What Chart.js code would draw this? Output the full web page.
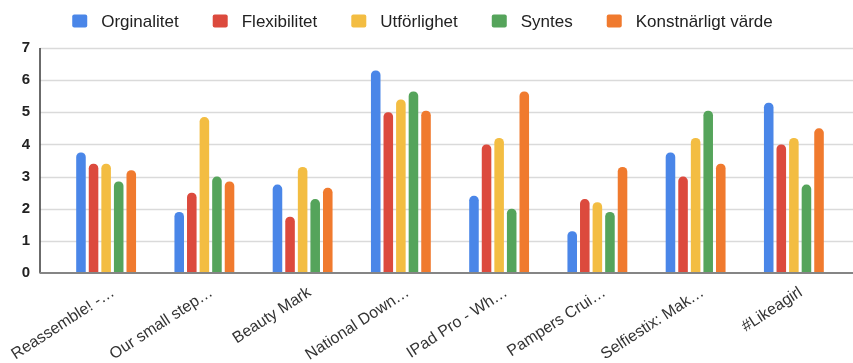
<!DOCTYPE html>
<html>
<head>
<meta charset="utf-8">
<script src="https://cdn.jsdelivr.net/npm/chart.js@4.4.1/dist/chart.umd.min.js"></script>
<style>
  html, body { margin: 0; padding: 0; background: #ffffff; }
  #wrap { width: 853px; height: 363px; position: relative; }
</style>
</head>
<body>
<div id="wrap"><canvas id="chart"></canvas></div>
<script>
// Category labels (truncated titles of the films)
const categories = [
  'Reassemble! -…', 'Our small step…', 'Beauty Mark', 'National Down…',
  'IPad Pro - Wh…', 'Pampers Crui…', 'Selfiestix: Mak…', '#Likeagirl'
];

// Series names
const seriesNames = ['Orginalitet', 'Flexibilitet', 'Utförlighet', 'Syntes', 'Konstnärligt värde'];

// Mean scores per film, one array per criterion
const orginalitet = [3.75, 1.9, 2.75, 6.3, 2.4, 1.3, 3.75, 5.3];
const flexibilitet = [3.4, 2.5, 1.75, 5.0, 4.0, 2.3, 3.0, 4.0];
const utforlighet = [3.4, 4.85, 3.3, 5.4, 4.2, 2.2, 4.2, 4.2];
const syntes = [2.85, 3.0, 2.3, 5.65, 2.0, 1.9, 5.05, 2.75];
const konstnarligt = [3.2, 2.85, 2.65, 5.05, 5.65, 3.3, 3.4, 4.5];

// Y axis tick values
const yTicks = [0, 1, 2, 3, 4, 5, 6, 7];

const seriesColors = ['#4a86e8', '#dc4a3d', '#f3bd42', '#55a45b', '#f07a2e'];
const seriesValues = [orginalitet, flexibilitet, utforlighet, syntes, konstnarligt];

const FONT = "'Liberation Sans', Arial, sans-serif";

// Horizontal grid, vertical axis line and baseline, spanning from the axis line to the right edge
const gridPlugin = {
  id: 'sheetGrid',
  beforeDatasetsDraw(chart) {
    const { ctx } = chart;
    const y = chart.scales.y;
    const axisX = 40;
    const rightX = chart.width;
    ctx.save();
    ctx.strokeStyle = '#dadada';
    ctx.lineWidth = 1.5;
    yTicks.forEach(v => {
      if (v === 0) return;
      const py = Math.round(y.getPixelForValue(v)) + 0.5;
      ctx.beginPath();
      ctx.moveTo(axisX, py);
      ctx.lineTo(rightX, py);
      ctx.stroke();
    });
    // vertical axis line
    ctx.strokeStyle = '#3a3a3a';
    ctx.lineWidth = 1.5;
    ctx.beginPath();
    ctx.moveTo(axisX, y.getPixelForValue(yTicks[yTicks.length - 1]));
    ctx.lineTo(axisX, y.getPixelForValue(0));
    ctx.stroke();
    ctx.restore();
  },
  afterDatasetsDraw(chart) {
    const { ctx } = chart;
    const y = chart.scales.y;
    const py = y.getPixelForValue(0);
    ctx.save();
    ctx.strokeStyle = '#858585';
    ctx.lineWidth = 2;
    ctx.beginPath();
    ctx.moveTo(39.5, py);
    ctx.lineTo(chart.width, py);
    ctx.stroke();
    ctx.restore();
  }
};

// Centered legend row at the top
const legendPlugin = {
  id: 'topLegend',
  afterDraw(chart) {
    const { ctx } = chart;
    const boxW = 15, boxH = 13, boxGap = 14, itemGap = 34;
    const cy = 21;
    ctx.save();
    ctx.font = '17px ' + FONT;
    const items = chart.data.datasets.map(ds => ({
      text: ds.label,
      color: ds.backgroundColor,
      w: boxW + boxGap + ctx.measureText(ds.label).width
    }));
    const total = items.reduce((s, it) => s + it.w, 0) + itemGap * (items.length - 1);
    let x = (chart.width - total) / 2 - 4;
    ctx.textBaseline = 'middle';
    ctx.textAlign = 'left';
    items.forEach(it => {
      ctx.fillStyle = it.color;
      ctx.beginPath();
      ctx.roundRect(x, cy - boxH / 2, boxW, boxH, 2);
      ctx.fill();
      ctx.fillStyle = '#222222';
      ctx.fillText(it.text, x + boxW + boxGap, cy + 1);
      x += it.w + itemGap;
    });
    ctx.restore();
  }
};

new Chart(document.getElementById('chart'), {
  type: 'bar',
  data: {
    labels: categories,
    datasets: seriesNames.map((name, i) => ({
      label: name,
      data: seriesValues[i],
      backgroundColor: seriesColors[i],
      borderRadius: { topLeft: 4.5, topRight: 4.5, bottomLeft: 0, bottomRight: 0 },
      borderSkipped: 'start',
      categoryPercentage: 0.64,
      barPercentage: 0.76
    }))
  },
  options: {
    responsive: true,
    maintainAspectRatio: false,
    animation: false,
    devicePixelRatio: 1,
    layout: { padding: { top: 48, right: 10, left: 0, bottom: 0 } },
    plugins: {
      legend: { display: false },
      tooltip: { enabled: false }
    },
    scales: {
      x: {
        grid: { display: false, drawTicks: false },
        border: { display: false },
        ticks: {
          autoSkip: false,
          minRotation: 33,
          maxRotation: 33,
          padding: 10,
          labelOffset: 7,
          color: '#333333',
          font: { family: FONT, size: 16 }
        },
        afterFit(scale) {
          scale.height = 90;
          scale.paddingLeft = 0;
          scale.paddingRight = 0;
        }
      },
      y: {
        min: 0,
        max: 7,
        grid: { display: false, drawTicks: false },
        border: { display: false },
        afterBuildTicks(scale) { scale.ticks = yTicks.map(v => ({ value: v })); },
        ticks: {
          padding: 27,
          color: '#222222',
          font: { family: FONT, size: 15, weight: 'bold' }
        },
        afterFit(scale) {
          scale.width = 57;
          scale.paddingTop = 0;
          scale.paddingBottom = 0;
        }
      }
    }
  },
  plugins: [gridPlugin, legendPlugin]
});
</script>
</body>
</html>
